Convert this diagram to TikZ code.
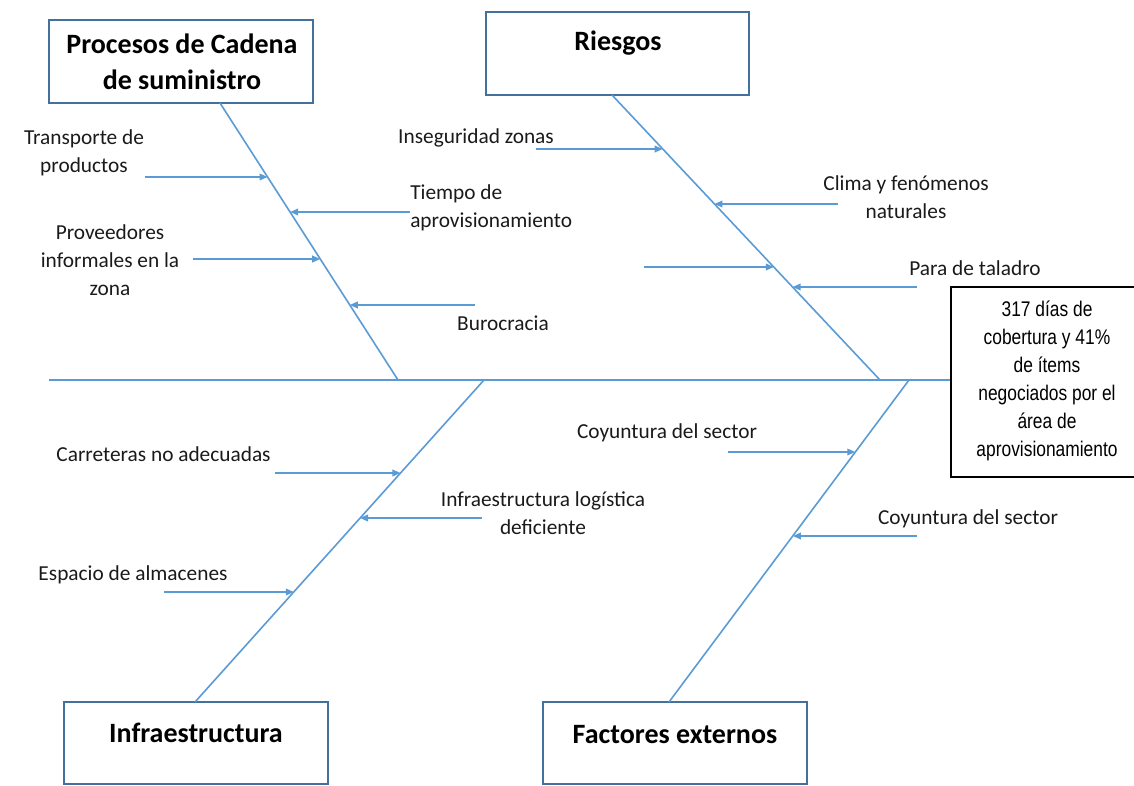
\documentclass[tikz,border=0pt]{standalone}
\usepackage{fontspec}
\setmainfont{Carlito}
\newfontfamily\narrowfont[FakeStretch=0.82]{Liberation Sans}
\usetikzlibrary{arrows.meta,calc}
\definecolor{bonecol}{HTML}{5B9BD5}
\definecolor{framecol}{HTML}{41719C}
\definecolor{inkcol}{HTML}{1A1A1A}
\begin{document}
\begin{tikzpicture}[x=0.75pt,y=-0.75pt,
  spine/.style={draw=bonecol, line width=1.2pt},
  bone/.style={draw=bonecol, line width=1.2pt},
  cause/.style={draw=bonecol, line width=1.1pt, -{Triangle[length=6pt,width=5pt]}},
  headbox/.style={draw=framecol, line width=1.3pt, inner sep=0pt, minimum height=62.25pt},
  headtext/.style={font=\fontsize{21}{27}\selectfont\bfseries, align=center, inner sep=0pt, text=black},
  effectbox/.style={draw=black, line width=0.9pt, inner sep=0pt, minimum width=141.75pt, minimum height=142.5pt},
  effecttext/.style={font=\narrowfont\fontsize{15.9}{21}\selectfont, align=center, inner sep=0pt, text=black},
  lbl/.style={font=\fontsize{16}{21}\selectfont, align=center, inner sep=0pt, text=inkcol},
  ]
\useasboundingbox (0,0) rectangle (1134,785);

% category boxes
\node[headbox, minimum width=198pt] (b1) at (181,61.5) {};
\node[headbox, minimum width=197.25pt] (b2) at (617.5,53.5) {};
\node[headbox, minimum width=198pt, minimum height=61.5pt] (b3) at (196,743) {};
\node[headbox, minimum width=198pt, minimum height=61.5pt] (b4) at (675,743) {};
\node[headtext] (h1) at (182,62) {Procesos de Cadena\\de suministro};
\node[headtext] (h2) at (618,43) {Riesgos};
\node[headtext] (h3) at (196,733) {Infraestructura};
\node[headtext] (h4) at (675,735) {Factores externos};

% effect box (its right side runs past the page edge)
\node[effectbox] (rb) at (1045.5,382) {};
\node[effecttext] (eff) at (1047,381) {317 días de\\cobertura y 41\%\\de ítems\\negociados por el\\área de\\aprovisionamiento};

% spine and main bones
\coordinate (tail) at (49,380);
\coordinate (f1) at (220,103);
\coordinate (j1) at (398,380);
\coordinate (f2) at (612,95);
\coordinate (j2) at (880,380);
\coordinate (j3) at (484,380);
\coordinate (f3) at (195,702);
\coordinate (j4) at (909,380);
\coordinate (f4) at (669,702);
\draw[spine] (tail) -- (tail -| rb.west);
\draw[bone] (f1) -- (j1);
\draw[bone] (f2) -- (j2);
\draw[bone] (j3) -- (f3);
\draw[bone] (j4) -- (f4);

% points where the causes meet the bones
\path (f1) -- (j1) coordinate[pos=0.267] (p11) coordinate[pos=0.394] (p12)
                   coordinate[pos=0.563] (p13) coordinate[pos=0.729] (p14);
\path (f2) -- (j2) coordinate[pos=0.189] (p21) coordinate[pos=0.382] (p22)
                   coordinate[pos=0.604] (p23) coordinate[pos=0.674] (p24);
\path (j3) -- (f3) coordinate[pos=0.289] (p31) coordinate[pos=0.429] (p32)
                   coordinate[pos=0.658] (p33);
\path (j4) -- (f4) coordinate[pos=0.224] (p41) coordinate[pos=0.484] (p42);

% cause arrow tails
\coordinate (s11) at (145,177);
\coordinate (s12) at (410,212);
\coordinate (s13) at (193,259);
\coordinate (s14) at (475,305);
\coordinate (s21) at (536,149);
\coordinate (s22) at (838,204);
\coordinate (s23) at (644,267);
\coordinate (s24) at (917,287);
\coordinate (s31) at (275,473);
\coordinate (s32) at (482,518);
\coordinate (s33) at (164,592);
\coordinate (s41) at (728,452);
\coordinate (s42) at (917,536);

\draw[cause] (s11) -- (s11 -| p11);
\draw[cause] (s12) -- (s12 -| p12);
\draw[cause] (s13) -- (s13 -| p13);
\draw[cause] (s14) -- (s14 -| p14);
\draw[cause] (s21) -- (s21 -| p21);
\draw[cause] (s22) -- (s22 -| p22);
\draw[cause] (s23) -- (s23 -| p23);
\draw[cause] (s24) -- (s24 -| p24);
\draw[cause] (s31) -- (s31 -| p31);
\draw[cause] (s32) -- (s32 -| p32);
\draw[cause] (s33) -- (s33 -| p33);
\draw[cause] (s41) -- (s41 -| p41);
\draw[cause] (s42) -- (s42 -| p42);

% cause labels
\node[lbl] (l11) at (84,153) {Transporte de\\productos};
\node[lbl, align=left, anchor=west] (l12) at (410,207.5) {Tiempo de\\aprovisionamiento};
\node[lbl] (l13) at (110,260.5) {Proveedores\\informales en la\\zona};
\node[lbl] (l14) at (503,323) {Burocracia};
\node[lbl] (l21) at (476,138) {Inseguridad zonas};
\node[lbl] (l22) at (906,197.5) {Clima y fenómenos\\naturales};
\node[lbl] (l24) at (975,268) {Para de taladro};
\node[lbl] (l31) at (163.5,454) {Carreteras no adecuadas};
\node[lbl] (l32) at (543,513) {Infraestructura logística\\deficiente};
\node[lbl] (l33) at (133,575) {Espacio de almacenes};
\node[lbl] (l41) at (667,433) {Coyuntura del sector};
\node[lbl] (l42) at (968,519) {Coyuntura del sector};
\end{tikzpicture}
\end{document}
